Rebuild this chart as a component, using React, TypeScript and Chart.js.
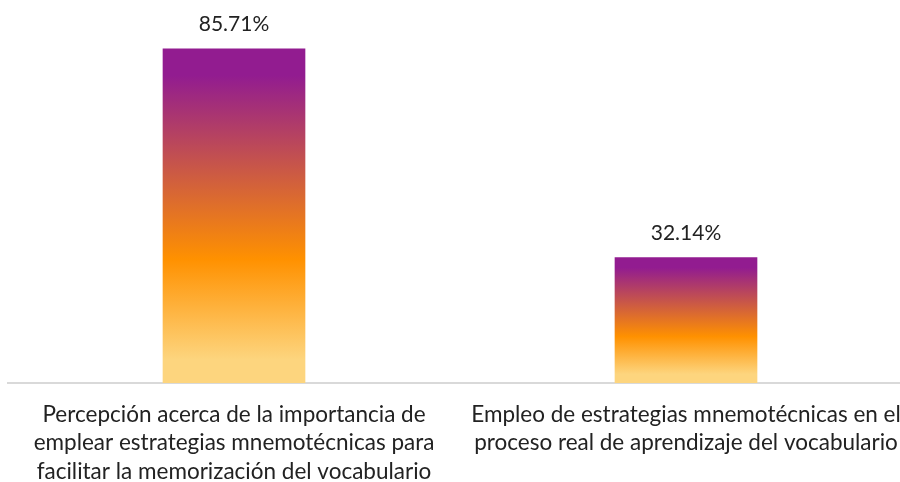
import React, { useEffect, useRef } from "react";
import { Chart, registerables } from "chart.js";

Chart.register(...registerables);

const categories: string[][] = [
  ["Percepción acerca de la importancia de", "emplear estrategias mnemotécnicas para", "facilitar la memorización del vocabulario"],
  ["Empleo de estrategias mnemotécnicas en el", "proceso real de aprendizaje del vocabulario"],
];
const values: number[] = [85.71, 32.14];
const valueLabels: string[] = ["85.71%", "32.14%"];

const gradientStops: [number, string][] = [
  [0, "#921C90"],
  [0.08, "#921C90"],
  [0.63, "#FF9100"],
  [0.93, "#FDD57E"],
  [1, "#FDD57E"],
];

const FONT = "Lato, 'Open Sans', sans-serif";

const labelPlugin = {
  id: "valueLabels",
  afterDatasetsDraw(chart: any) {
    const ctx = chart.ctx;
    const meta = chart.getDatasetMeta(0);
    ctx.save();
    ctx.font = `21px ${FONT}`;
    ctx.fillStyle = "#222222";
    ctx.textAlign = "center";
    ctx.textBaseline = "alphabetic";
    meta.data.forEach((el: any, i: number) => {
      ctx.fillText(valueLabels[i], el.x, el.y - 18);
    });
    ctx.restore();
  },
};

const extendAreaPlugin = {
  id: "extendArea",
  afterLayout(chart: any) {
    const x = chart.scales.x;
    const right = 912;
    x.right = right;
    x.width = right - x.left;
    chart.chartArea.right = right;
    chart.chartArea.width = right - chart.chartArea.left;
    x.configure();
  },
};

export default function App() {
  const ref = useRef<HTMLCanvasElement | null>(null);
  useEffect(() => {
    if (!ref.current) return;
    const chart = new Chart(ref.current, {
      type: "bar",
      data: {
        labels: categories,
        datasets: [
          {
            data: values,
            barThickness: 142,
            backgroundColor: (c: any) => {
              const ch = c.chart;
              const y = ch.scales?.y;
              if (!y || c.dataIndex === undefined) return "#FF9100";
              const top = y.getPixelForValue(values[c.dataIndex]);
              const base = y.getPixelForValue(0);
              if (!isFinite(top) || !isFinite(base) || top === base) return "#FF9100";
              const g = ch.ctx.createLinearGradient(0, top, 0, base);
              gradientStops.forEach(([o, col]) => g.addColorStop(o, col));
              return g;
            },
          },
        ],
      },
      options: {
        animation: false,
        responsive: true,
        maintainAspectRatio: false,
        layout: { padding: { top: 32, left: 8, right: 0, bottom: 0 } },
        plugins: { legend: { display: false }, tooltip: { enabled: false } },
        scales: {
          x: {
            grid: { display: false, drawTicks: false },
            border: { display: true, color: "#D9D9D9", width: 2 },
            ticks: {
              padding: 17,
              color: "#222222",
              font: { family: FONT, size: 22.5, lineHeight: 1.267 },
              maxRotation: 0,
              autoSkip: false,
            },
            afterFit: (s: any) => {
              s.height = 99;
            },
          },
          y: { display: false, min: 0, max: 90 },
        },
      },
      plugins: [labelPlugin, extendAreaPlugin],
    });
    return () => chart.destroy();
  }, []);
  return (
    <div style={{ position: "fixed", left: 0, top: 0, width: 900, height: 482 }}>
      <canvas ref={ref} />
    </div>
  );
}
